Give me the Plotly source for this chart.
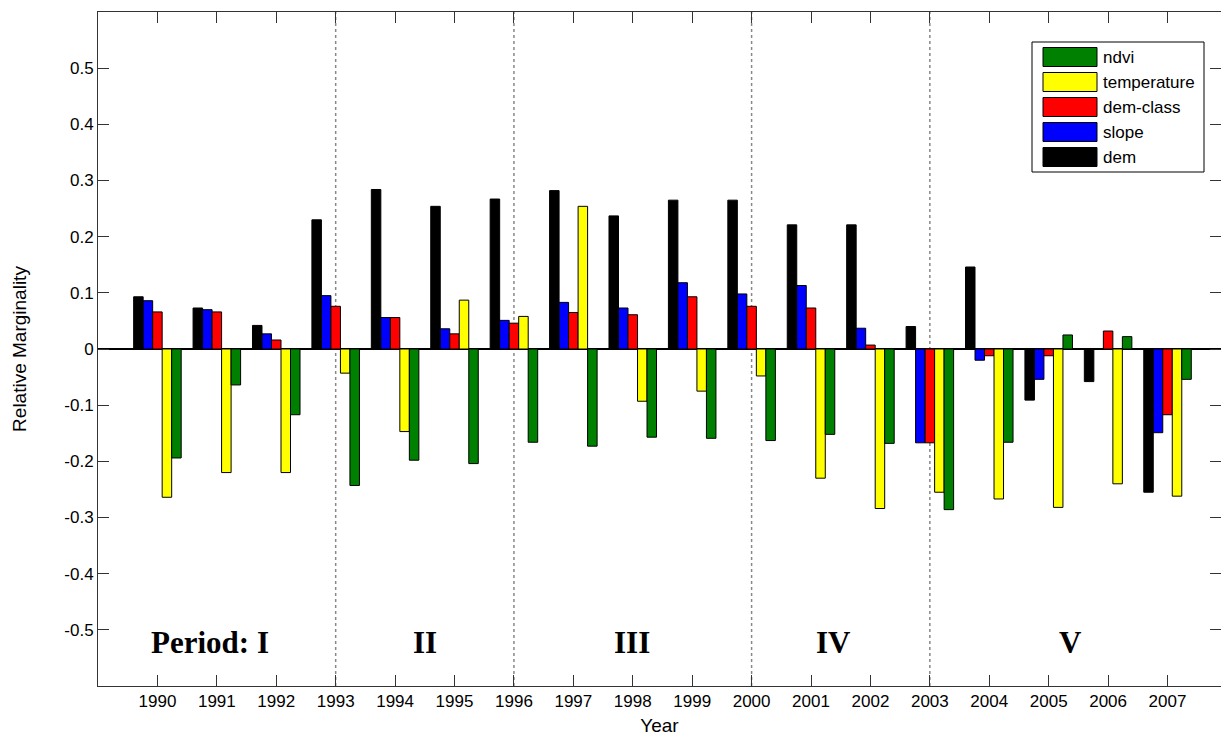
import plotly.graph_objects as go

years = list(range(1990, 2008))
series_names = ["dem", "slope", "dem-class", "temperature", "ndvi"]
series_colors = ["#000000", "#0000FF", "#FF0000", "#FFFF00", "#008000"]

dem = [0.093, 0.073, 0.042, 0.230, 0.284, 0.254, 0.267, 0.282, 0.237, 0.265,
       0.265, 0.221, 0.221, 0.040, 0.146, -0.091, -0.058, -0.255]
slope = [0.086, 0.070, 0.027, 0.095, 0.056, 0.036, 0.051, 0.083, 0.073, 0.118,
         0.098, 0.113, 0.037, -0.167, -0.020, -0.054, 0.000, -0.149]
dem_class = [0.066, 0.066, 0.016, 0.076, 0.056, 0.027, 0.046, 0.065, 0.061, 0.093,
             0.076, 0.073, 0.007, -0.167, -0.012, -0.012, 0.032, -0.117]
temperature = [-0.264, -0.220, -0.220, -0.043, -0.147, 0.087, 0.058, 0.254, -0.093, -0.075,
               -0.048, -0.230, -0.284, -0.255, -0.267, -0.282, -0.240, -0.262]
ndvi = [-0.194, -0.064, -0.117, -0.243, -0.198, -0.204, -0.166, -0.173, -0.157, -0.159,
        -0.163, -0.152, -0.168, -0.286, -0.166, 0.025, 0.022, -0.054]
series_values = [dem, slope, dem_class, temperature, ndvi]

period_labels = ["Period: I", "II", "III", "IV", "V"]
period_label_x = [1990.89, 1994.51, 1997.99, 2001.37, 2005.36]
period_bounds = [1993, 1996, 2000, 2003]
ytick_vals = [-0.5, -0.4, -0.3, -0.2, -0.1, 0, 0.1, 0.2, 0.3, 0.4, 0.5]
ytick_text = ["-0.5", "-0.4", "-0.3", "-0.2", "-0.1", "0", "0.1", "0.2", "0.3", "0.4", "0.5"]

SANS = "Liberation Sans, Arial, sans-serif"
SERIF = "Liberation Serif, Times New Roman, serif"

W, H = 1221, 736
ML, MR, MT, MB = 98, 0, 12, 50


def px_x(p):
    return (p - ML) / (W - ML - MR)


def px_y(p):
    return (H - MB - p) / (H - MT - MB)


fig = go.Figure()
for name, vals, col in zip(series_names, series_values, series_colors):
    fig.add_trace(go.Bar(
        x=years, y=vals, name=name,
        marker=dict(color=col, line=dict(color="#000000", width=1)),
        showlegend=False,
    ))

shapes = []
for b in period_bounds:
    shapes.append(dict(type="line", xref="x", yref="paper", x0=b, x1=b, y0=0, y1=1,
                       line=dict(color="#888888", width=1.5, dash="dot"), layer="below"))

annotations = []
for lab, xv in zip(period_labels, period_label_x):
    annotations.append(dict(x=xv, y=-0.523, xref="x", yref="y", text="<b>%s</b>" % lab,
                            showarrow=False, font=dict(family=SERIF, size=31, color="#000000"),
                            xanchor="center", yanchor="middle"))

# custom legend (MATLAB style), top to bottom: ndvi ... dem
shapes.append(dict(type="rect", xref="paper", yref="paper",
                   x0=px_x(1032), x1=px_x(1204), y0=px_y(172), y1=px_y(42),
                   line=dict(color="#000000", width=1), fillcolor="#FFFFFF", layer="above"))
leg_order = list(range(len(series_names)))[::-1]
for i, k in enumerate(leg_order):
    cy = 57 + 25 * i
    shapes.append(dict(type="rect", xref="paper", yref="paper",
                       x0=px_x(1043), x1=px_x(1097), y0=px_y(cy + 9.5), y1=px_y(cy - 9.5),
                       line=dict(color="#000000", width=1), fillcolor=series_colors[k], layer="above"))
    annotations.append(dict(x=px_x(1101), y=px_y(cy), xref="paper", yref="paper",
                            text=series_names[k], showarrow=False, xanchor="left", yanchor="middle",
                            font=dict(family=SANS, size=17, color="#000000")))

fig.update_layout(
    width=W, height=H,
    margin=dict(l=ML, r=MR, t=MT, b=MB, pad=0),
    paper_bgcolor="#FFFFFF", plot_bgcolor="#FFFFFF",
    barmode="group", bargap=0.2, bargroupgap=0,
    shapes=shapes, annotations=annotations,
    showlegend=False,
    font=dict(family=SANS, size=17, color="#000000"),
)
fig.update_xaxes(
    range=[1989, 2007.9], tickvals=years, ticktext=[str(y) for y in years],
    ticks="inside", ticklen=11, tickwidth=1, tickcolor="#333333",
    showline=True, linecolor="#333333", linewidth=1, mirror="ticks",
    showgrid=False, zeroline=False,
    tickfont=dict(family=SANS, size=17, color="#000000"),
    title=dict(text="Year", font=dict(family=SANS, size=19, color="#000000"), standoff=11),
)
fig.update_yaxes(
    range=[-0.6, 0.6], tickvals=ytick_vals, ticktext=ytick_text,
    ticks="inside", ticklen=11, tickwidth=1, tickcolor="#333333",
    showline=True, linecolor="#333333", linewidth=1, mirror="ticks",
    showgrid=False, zeroline=True, zerolinecolor="#000000", zerolinewidth=1.5,
    tickfont=dict(family=SANS, size=17, color="#000000"),
    title=dict(text="Relative Marginality", font=dict(family=SANS, size=19, color="#000000"), standoff=32),
)

fig.write_html("out.html")
